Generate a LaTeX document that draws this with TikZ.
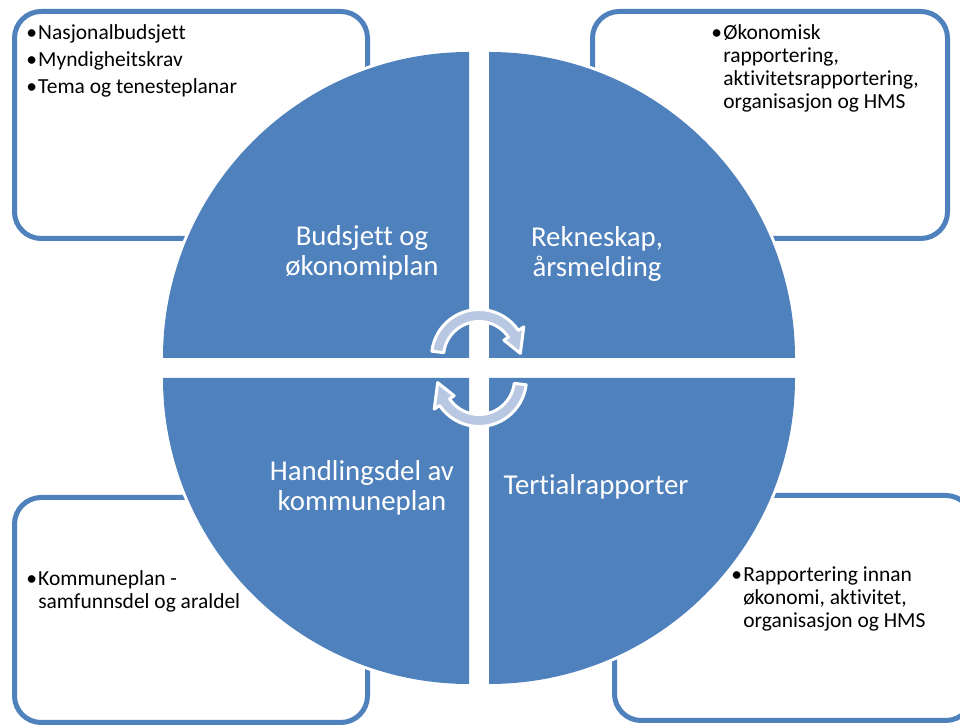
\documentclass[tikz,border=0pt]{standalone}
\usepackage{fontspec}
\setmainfont{Carlito}[Ligatures=NoCommon]
\definecolor{quadblue}{RGB}{79,129,189}
\definecolor{arrowfill}{RGB}{185,200,226}
\newcommand{\bul}{\makebox[7.5pt][l]{\hspace{-1.5pt}\textbullet}}

\begin{document}
\begin{tikzpicture}[x=0.75pt,y=0.75pt,
  infobox/.style={draw=quadblue,line width=3.75pt,rounded corners=20pt},
  quadrant/.style={fill=quadblue,preaction={draw=white,line width=4.5pt}},
  cyclearrow/.style={fill=arrowfill,draw=white,line width=2.25pt,line join=round},
  quadtext/.style={text=white,align=center,inner sep=0pt,font=\fontsize{21.6}{22.5}\selectfont},
  boxtext/.style={anchor=base west,inner sep=0pt,font=\fontsize{16.1}{17.2}\selectfont}]
\useasboundingbox (0,0) rectangle (960,727);
\draw[infobox] (14.5,488.5) rectangle (367.5,715.5);
\draw[infobox] (592.5,488.5) rectangle (947.5,715.5);
\draw[infobox] (14.5,4.5) rectangle (367.5,229.5);
\draw[infobox] (614.5,6.5) rectangle (972.5,231.5);
\path[quadrant] (469,369) -- (163,369) arc[start angle=180,end angle=90,radius=306] -- cycle;
\path[quadrant] (489,369) -- (489,675) arc[start angle=90,end angle=0,radius=306] -- cycle;
\path[quadrant] (489,349) -- (795,349) arc[start angle=0,end angle=-90,radius=306] -- cycle;
\path[quadrant] (469,349) -- (469,43) arc[start angle=270,end angle=180,radius=306] -- cycle;
\begin{scope}[shift={(479,370)}]
\draw[cyclearrow] (173:47.5) arc[start angle=173,end angle=34,radius=47.5] -- (34:54) -- (5:41.5)
  -- (34:30) -- (34:35.5) arc[start angle=34,end angle=173,radius=35.5] -- cycle;
\end{scope}
\begin{scope}[rotate around={180:(479,359)},shift={(479,370)}]
\draw[cyclearrow] (173:47.5) arc[start angle=173,end angle=34,radius=47.5] -- (34:54) -- (5:41.5)
  -- (34:30) -- (34:35.5) arc[start angle=34,end angle=173,radius=35.5] -- cycle;
\end{scope}
\node[quadtext] (budsjett) at (362,474) {Budsjett og\\økonomiplan};
\node[quadtext] (rekneskap) at (597,473) {Rekneskap,\\årsmelding};
\node[quadtext] (handling) at (362,239) {Handlingsdel av\\kommuneplan};
\node[quadtext] (tertial) at (596,240) {Tertialrapporter};
\node[boxtext,font=\fontsize{16.1}{20}\selectfont] (nasjonal) at (28,687)
  {\begin{tabular}[t]{@{}l@{}}\bul Nasjonalbudsjett\\\bul Myndigheitskrav\\\bul Tema og tenesteplanar\end{tabular}};
\node[boxtext] (okonomisk) at (713,687)
  {\begin{tabular}[t]{@{}l@{}l@{}}\bul&Økonomisk\\&rapportering,\\&aktivitetsrapportering,\\&organisasjon og HMS\end{tabular}};
\node[boxtext] (kommuneplan) at (28,141)
  {\begin{tabular}[t]{@{}l@{}l@{}}\bul&Kommuneplan -\\&samfunnsdel og araldel\end{tabular}};
\node[boxtext] (innan) at (733,145)
  {\begin{tabular}[t]{@{}l@{}l@{}}\bul&Rapportering innan\\&økonomi, aktivitet,\\&organisasjon og HMS\end{tabular}};
\end{tikzpicture}
\end{document}
